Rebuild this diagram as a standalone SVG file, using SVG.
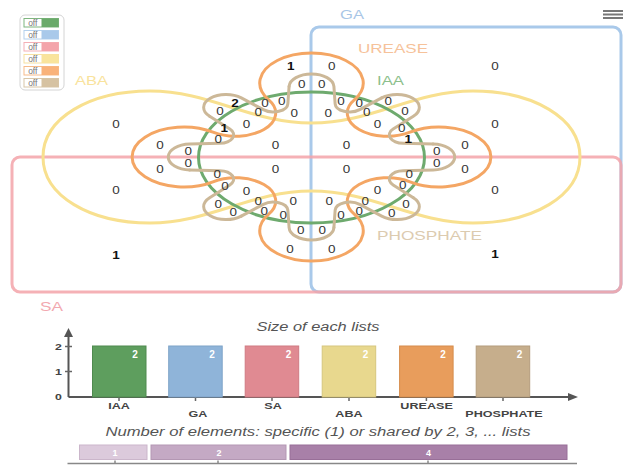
<svg xmlns="http://www.w3.org/2000/svg" width="623" height="465" viewBox="0 0 623 465">
<style>
text{font-family:"Liberation Sans",Arial,sans-serif}
.c{font-size:10px;fill:#333;text-anchor:middle;transform-box:fill-box;transform-origin:center;transform:scaleX(1.35)}
.b{font-weight:bold;fill:#111}
.shape{fill:none;stroke-width:3;stroke-linecap:round;stroke-linejoin:round}
.lab{font-size:13px}
.ax{stroke:#555;stroke-width:2;fill:none}
.xl{font-size:9px;font-weight:bold;fill:#444;text-anchor:middle;transform-box:fill-box;transform-origin:center;transform:scaleX(1.4)}
.yl{font-size:9.5px;font-weight:bold;fill:#444;text-anchor:middle;transform-box:fill-box;transform-origin:center;transform:scaleX(1.3)}
.bv{font-size:10px;font-weight:bold;fill:#fff;text-anchor:middle}
.lg{font-size:8.5px;fill:#777;text-anchor:middle}
</style>
<defs>
<path id="phu" d="M70.54 -12.99 A13 13 0 0 1 70.54 12.99 L53.23 13.71 A8.5 8.5 0 0 0 47.33 27.94 L59.06 40.69" vector-effect="non-scaling-stroke"/>
</defs>

<g id="legend">
<rect x="20" y="15" width="44" height="75" rx="5" fill="#fff" stroke="#d4d4d4" stroke-width="1"/>
<rect x="24" y="18.5" width="34.5" height="8.5" fill="#fff" stroke="#7fb57f"/><rect x="41.5" y="18.5" width="17" height="8.5" fill="#6aaa6a"/><text x="32.8" y="25.8" class="lg">off</text>
<rect x="24" y="30.5" width="34.5" height="8.5" fill="#fff" stroke="#b4d0ec"/><rect x="41.5" y="30.5" width="17" height="8.5" fill="#a9c9ea"/><text x="32.8" y="37.8" class="lg">off</text>
<rect x="24" y="42.5" width="34.5" height="8.5" fill="#fff" stroke="#f4b0b5"/><rect x="41.5" y="42.5" width="17" height="8.5" fill="#f4a4aa"/><text x="32.8" y="49.8" class="lg">off</text>
<rect x="24" y="54.5" width="34.5" height="8.5" fill="#fff" stroke="#f6e0a0"/><rect x="41.5" y="54.5" width="17" height="8.5" fill="#f9e49c"/><text x="32.8" y="61.8" class="lg">off</text>
<rect x="24" y="66.5" width="34.5" height="8.5" fill="#fff" stroke="#f7bb8a"/><rect x="41.5" y="66.5" width="17" height="8.5" fill="#f9b27a"/><text x="32.8" y="73.8" class="lg">off</text>
<rect x="24" y="78.5" width="34.5" height="8.5" fill="#fff" stroke="#d8c6a8"/><rect x="41.5" y="78.5" width="17" height="8.5" fill="#d6c2a2"/><text x="32.8" y="85.8" class="lg">off</text>
</g>

<g id="menu" stroke="#777" stroke-width="2">
<line x1="603" y1="11" x2="623" y2="11"/><line x1="603" y1="14.5" x2="623" y2="14.5"/><line x1="603" y1="18" x2="623" y2="18"/>
</g>

<g id="GA"><rect class="shape" x="311" y="27" width="310" height="265" rx="8" stroke="#a9c9ea"/>
<text class="lab" x="340" y="19" textLength="24" lengthAdjust="spacingAndGlyphs" fill="#a8c6e6">GA</text></g>
<g id="SA"><rect class="shape" x="12" y="157" width="609" height="135" rx="8" stroke="#f3a3a9" stroke-opacity="0.85"/>
<text class="lab" x="40" y="310.5" textLength="23" lengthAdjust="spacingAndGlyphs" fill="#f2a8b0">SA</text></g>
<g id="ABA"><path class="shape" stroke="#f8e08f" d="M43 157 C43 118 90 91 150 91 C210 91 251 123 311.5 123 C372 123 413 91 473 91 C533 91 580 118 580 157 C580 196 533 223 473 223 C413 223 372 191 311.5 191 C251 191 210 223 150 223 C90 223 43 196 43 157Z"/>
<text class="lab" x="75" y="85" textLength="33" lengthAdjust="spacingAndGlyphs" fill="#f9e39c">ABA</text></g>

<g transform="matrix(1.725 0 0 1 311.5 157)">
<g id="IAA"><circle class="shape" r="65.5" cx="0" cy="0.5" stroke="#6eaa6e" vector-effect="non-scaling-stroke"/></g>
<g id="UREASE"><path class="shape" stroke="#f4a664" vector-effect="non-scaling-stroke" d="M-24.8 -57.12 A30 30 0 1 1 24.8 -57.12 A23.26 23.26 0 0 0 57.12 -24.8 A30 30 0 1 1 57.12 24.8 A23.26 23.26 0 0 0 24.8 57.12 A30 30 0 1 1 -24.8 57.12 A23.26 23.26 0 0 0 -57.12 24.8 A30 30 0 1 1 -57.12 -24.8 A23.26 23.26 0 0 0 -24.8 -57.12Z"/></g>
<g id="PHOSPHATE" class="shape" stroke="#ccb898">
<use href="#phu"/><use href="#phu" transform="rotate(45)"/><use href="#phu" transform="rotate(90)"/><use href="#phu" transform="rotate(135)"/>
<use href="#phu" transform="rotate(180)"/><use href="#phu" transform="rotate(225)"/><use href="#phu" transform="rotate(270)"/><use href="#phu" transform="rotate(315)"/>
</g>
</g>
<text class="lab" x="358" y="52.7" textLength="70" lengthAdjust="spacingAndGlyphs" fill="#f6c29a">UREASE</text>
<text class="lab" x="377" y="85" textLength="27" lengthAdjust="spacingAndGlyphs" fill="#8cbf8c">IAA</text>
<text class="lab" x="377" y="240" textLength="105" lengthAdjust="spacingAndGlyphs" fill="#dccbb0">PHOSPHATE</text>

<g id="counts">
<text class="c b" x="290.7" y="69.6">1</text>
<text class="c" x="331.7" y="69.6">0</text>
<text class="c" x="301.7" y="87.9">0</text>
<text class="c" x="321.7" y="87.9">0</text>
<text class="c b" x="235" y="106.9">2</text>
<text class="c" x="220" y="114.6">0</text>
<text class="c" x="265" y="106.9">0</text>
<text class="c" x="281.7" y="105.3">0</text>
<text class="c" x="258.3" y="115.9">0</text>
<text class="c" x="294.3" y="116.9">0</text>
<text class="c" x="328.3" y="116.9">0</text>
<text class="c" x="341" y="104.6">0</text>
<text class="c" x="359.3" y="106.9">0</text>
<text class="c" x="388.3" y="105.3">0</text>
<text class="c" x="366.7" y="116.3">0</text>
<text class="c" x="405" y="114.6">0</text>
<text class="c" x="246.7" y="127.6">0</text>
<text class="c b" x="224.3" y="131.9">1</text>
<text class="c" x="218.3" y="142.9">0</text>
<text class="c" x="377.7" y="127.6">0</text>
<text class="c" x="401.7" y="131.9">0</text>
<text class="c b" x="408.3" y="142.9">1</text>
<text class="c" x="160" y="148.6">0</text>
<text class="c" x="188.3" y="154.6">0</text>
<text class="c" x="188.3" y="166.9">0</text>
<text class="c" x="160" y="172.6">0</text>
<text class="c" x="275.7" y="148.6">0</text>
<text class="c" x="275.7" y="172.6">0</text>
<text class="c" x="346.7" y="148.6">0</text>
<text class="c" x="346.7" y="172.6">0</text>
<text class="c" x="436.7" y="154.6">0</text>
<text class="c" x="436.7" y="166.9">0</text>
<text class="c" x="465" y="148.6">0</text>
<text class="c" x="465" y="172.6">0</text>
<text class="c" x="217.3" y="177.9">0</text>
<text class="c" x="225" y="190.3">0</text>
<text class="c" x="246.7" y="195.3">0</text>
<text class="c" x="218.3" y="207.9">0</text>
<text class="c" x="233.3" y="215.9">0</text>
<text class="c" x="258.3" y="204.6">0</text>
<text class="c" x="264.3" y="214.6">0</text>
<text class="c" x="283.3" y="218.6">0</text>
<text class="c" x="293.3" y="204.6">0</text>
<text class="c" x="329.3" y="204.6">0</text>
<text class="c" x="341" y="218.6">0</text>
<text class="c" x="359.3" y="214.6">0</text>
<text class="c" x="365.3" y="204.6">0</text>
<text class="c" x="391.7" y="216.9">0</text>
<text class="c" x="406" y="207.6">0</text>
<text class="c" x="377.7" y="194.3">0</text>
<text class="c" x="402.7" y="189.3">0</text>
<text class="c" x="409.3" y="177.9">0</text>
<text class="c" x="300.7" y="234.3">0</text>
<text class="c" x="322.3" y="234.3">0</text>
<text class="c" x="290" y="252.6">0</text>
<text class="c" x="331.7" y="252.6">0</text>
<text class="c" x="116" y="127.9">0</text>
<text class="c" x="116" y="193.6">0</text>
<text class="c b" x="116" y="259.3">1</text>
<text class="c" x="495" y="69.6">0</text>
<text class="c" x="495" y="127.6">0</text>
<text class="c" x="495" y="194.3">0</text>
<text class="c b" x="495" y="258">1</text>
</g>

<g id="barchart">
<text x="318" y="330.5" font-size="12" font-style="italic" fill="#555" text-anchor="middle" textLength="123" lengthAdjust="spacingAndGlyphs">Size of each lists</text>
<line class="ax" x1="68.5" y1="397" x2="68.5" y2="335"/>
<polygon points="68.5,328 64,337 73,337" fill="#555"/>
<line class="ax" x1="68.5" y1="397" x2="571" y2="397"/>
<polygon points="578,397 568,393 568,401" fill="#555"/>
<g stroke="#666" stroke-width="1.5"><line x1="65" y1="346.5" x2="72" y2="346.5"/><line x1="65" y1="371.5" x2="72" y2="371.5"/>
<line x1="119" y1="397" x2="119" y2="401"/><line x1="195.5" y1="397" x2="195.5" y2="401"/><line x1="272" y1="397" x2="272" y2="401"/><line x1="349" y1="397" x2="349" y2="401"/><line x1="426.4" y1="397" x2="426.4" y2="401"/><line x1="503" y1="397" x2="503" y2="401"/></g>
<text class="yl" x="58.5" y="350.5">2</text><text class="yl" x="58.5" y="375">1</text><text class="yl" x="58.5" y="400">0</text>
<rect x="92.5" y="346" width="53.5" height="51" fill="#5e9e5e" stroke="#4f8a4f"/>
<rect x="168.7" y="346" width="53.5" height="51" fill="#8fb4d9" stroke="#7ea3c8"/>
<rect x="245.2" y="346" width="53.5" height="51" fill="#e08a92" stroke="#cf7a82"/>
<rect x="322.2" y="346" width="53.5" height="51" fill="#e8d88e" stroke="#d6c67e"/>
<rect x="399.6" y="346" width="53.5" height="51" fill="#e89d5c" stroke="#d68c4c"/>
<rect x="476.2" y="346" width="53.5" height="51" fill="#c6ae8c" stroke="#b49c7c"/>
<text class="bv" x="135" y="358">2</text><text class="bv" x="212" y="358">2</text><text class="bv" x="288.5" y="358">2</text><text class="bv" x="365.5" y="358">2</text><text class="bv" x="443" y="358">2</text><text class="bv" x="519.5" y="358">2</text>
<text class="xl" x="119" y="409.5">IAA</text>
<text class="xl" x="198" y="417">GA</text>
<text class="xl" x="273" y="409.5">SA</text>
<text class="xl" x="349" y="417">ABA</text>
<text class="xl" x="426.6" y="409.5">UREASE</text>
<text class="xl" x="504" y="417">PHOSPHATE</text>
<text x="318" y="435.5" font-size="12" font-style="italic" fill="#555" text-anchor="middle" textLength="425" lengthAdjust="spacingAndGlyphs">Number of elements: specific (1) or shared by 2, 3, ... lists</text>
<rect x="79.5" y="445" width="67.5" height="14.5" fill="#dccadc" stroke="#cbb6cb"/>
<rect x="151" y="445" width="135" height="14.5" fill="#c4a9c4" stroke="#b397b3"/>
<rect x="290" y="445" width="277" height="14.5" fill="#a880a8" stroke="#986f98"/>
<g font-size="9" font-weight="bold" fill="#fff" text-anchor="middle"><text x="115" y="455.5">1</text><text x="219" y="455.5">2</text><text x="428.6" y="455.5">4</text></g>
<line x1="67.5" y1="463.5" x2="577" y2="463.5" stroke="#888" stroke-width="1.5"/>
<g stroke="#888" stroke-width="1.5"><line x1="115" y1="460.5" x2="115" y2="463.5"/><line x1="218" y1="460.5" x2="218" y2="463.5"/><line x1="428" y1="460.5" x2="428" y2="463.5"/></g>
</g>
</svg>
